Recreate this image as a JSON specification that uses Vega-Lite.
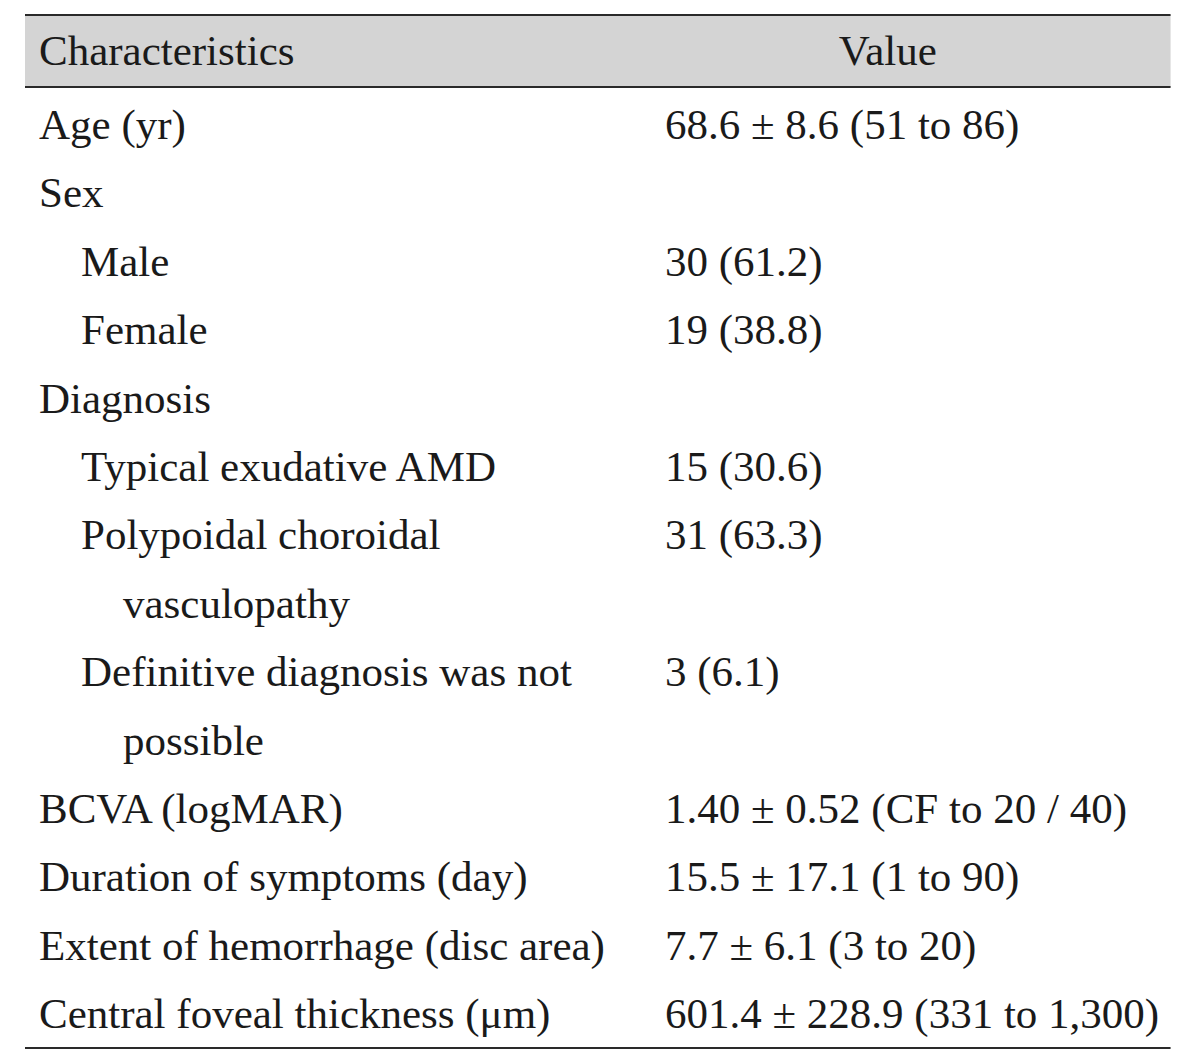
{
  "$schema": "https://vega.github.io/schema/vega-lite/v6.json",
  "width": 1200,
  "height": 1062,
  "padding": 0,
  "autosize": {"type": "none"},
  "background": "white",
  "config": {"view": {"stroke": null}},
  "data": {
    "values": [
      {"line": -1, "level": 0, "characteristic": "Characteristics", "value": "Value"},
      {"line": 0, "level": 0, "characteristic": "Age (yr)", "value": "68.6 ± 8.6 (51  to  86)"},
      {"line": 1, "level": 0, "characteristic": "Sex", "value": ""},
      {"line": 2, "level": 1, "characteristic": "Male", "value": "30 (61.2)"},
      {"line": 3, "level": 1, "characteristic": "Female", "value": "19 (38.8)"},
      {"line": 4, "level": 0, "characteristic": "Diagnosis", "value": ""},
      {"line": 5, "level": 1, "characteristic": "Typical exudative AMD", "value": "15 (30.6)"},
      {"line": 6, "level": 1, "characteristic": "Polypoidal choroidal", "value": "31 (63.3)"},
      {"line": 7, "level": 2, "characteristic": "vasculopathy", "value": ""},
      {"line": 8, "level": 1, "characteristic": "Definitive diagnosis was not", "value": "3 (6.1)"},
      {"line": 9, "level": 2, "characteristic": "possible", "value": ""},
      {"line": 10, "level": 0, "characteristic": "BCVA (logMAR)", "value": "1.40 ± 0.52 (CF  to  20 / 40)"},
      {"line": 11, "level": 0, "characteristic": "Duration of symptoms (day)", "value": "15.5 ± 17.1 (1  to  90)"},
      {"line": 12, "level": 0, "characteristic": "Extent of hemorrhage (disc area)", "value": "7.7 ± 6.1 (3  to  20)"},
      {"line": 13, "level": 0, "characteristic": "Central foveal thickness (μm)", "value": "601.4 ± 228.9 (331  to  1,300)"}
    ]
  },
  "layer": [
    {
      "mark": {"type": "rect", "color": "#d4d4d4"},
      "encoding": {
        "x": {"datum": -0.333, "type": "quantitative", "scale": {"domain": [-0.9286, 27.643], "nice": false, "zero": false}, "axis": null},
        "x2": {"datum": 26.93},
        "y": {"datum": -1.813, "type": "quantitative", "scale": {"domain": [-2.032, 13.494], "reverse": true, "nice": false, "zero": false}, "axis": null},
        "y2": {"datum": -0.76}
      }
    },
    {
      "mark": {"type": "rule", "color": "#2a2a2a", "strokeWidth": 2},
      "encoding": {
        "x": {"datum": -0.333, "type": "quantitative"},
        "x2": {"datum": 26.93},
        "y": {"datum": -1.813, "type": "quantitative"}
      }
    },
    {
      "mark": {"type": "rule", "color": "#2a2a2a", "strokeWidth": 2},
      "encoding": {
        "x": {"datum": -0.333, "type": "quantitative"},
        "x2": {"datum": 26.93},
        "y": {"datum": -0.76, "type": "quantitative"}
      }
    },
    {
      "mark": {"type": "rule", "color": "#2a2a2a", "strokeWidth": 2},
      "encoding": {
        "x": {"datum": -0.333, "type": "quantitative"},
        "x2": {"datum": 26.93},
        "y": {"datum": 13.289, "type": "quantitative"}
      }
    },
    {
      "transform": [{"filter": "datum.line >= 0"}],
      "mark": {"type": "text", "align": "left", "baseline": "alphabetic", "font": "Liberation Serif", "fontSize": 43, "color": "#1a1a1a"},
      "encoding": {
        "x": {"field": "level", "type": "quantitative"},
        "y": {"field": "line", "type": "quantitative"},
        "text": {"field": "characteristic"}
      }
    },
    {
      "transform": [{"filter": "datum.line >= 0"}],
      "mark": {"type": "text", "align": "left", "baseline": "alphabetic", "font": "Liberation Serif", "fontSize": 43, "color": "#1a1a1a"},
      "encoding": {
        "x": {"datum": 14.905, "type": "quantitative"},
        "y": {"field": "line", "type": "quantitative"},
        "text": {"field": "value"}
      }
    },
    {
      "transform": [{"filter": "datum.line < 0"}],
      "mark": {"type": "text", "align": "left", "baseline": "alphabetic", "dy": -6, "font": "Liberation Serif", "fontSize": 43, "color": "#1a1a1a"},
      "encoding": {
        "x": {"field": "level", "type": "quantitative"},
        "y": {"field": "line", "type": "quantitative"},
        "text": {"field": "characteristic"}
      }
    },
    {
      "transform": [{"filter": "datum.line < 0"}],
      "mark": {"type": "text", "align": "center", "baseline": "alphabetic", "dy": -6, "font": "Liberation Serif", "fontSize": 43, "color": "#1a1a1a"},
      "encoding": {
        "x": {"datum": 20.21, "type": "quantitative"},
        "y": {"field": "line", "type": "quantitative"},
        "text": {"field": "value"}
      }
    }
  ]
}
